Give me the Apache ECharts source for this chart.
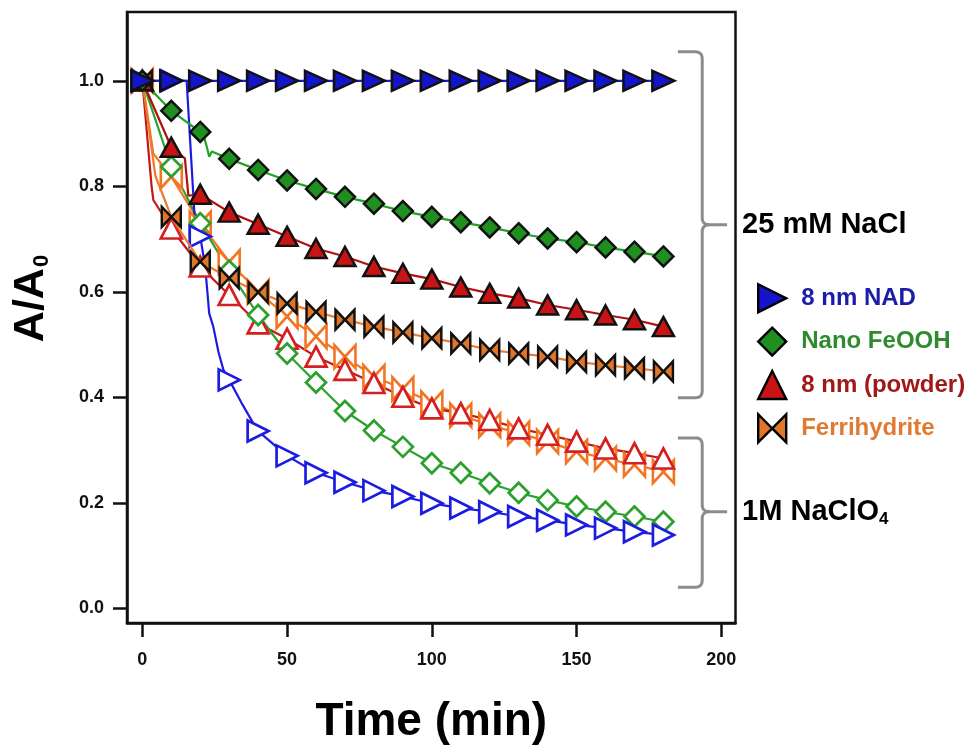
<!DOCTYPE html>
<html>
<head>
<meta charset="utf-8">
<script src="https://cdn.jsdelivr.net/npm/echarts@6/dist/echarts.min.js"></script>
<style>
html,body{margin:0;padding:0;background:#fff;}
#chart{width:971px;height:745px;}
</style>
</head>
<body>
<div id="chart"></div>
<script>
// ---------------- data ----------------
const markerTimes = [0,10,20,30,40,50,60,70,80,90,100,110,120,130,140,150,160,170,180];
const xTicks = [0,50,100,150,200];
const yTicks = [0,0.2,0.4,0.6,0.8,1.0];

// 25 mM NaCl (filled markers)
const nadNaCl      = [1.000,1.000,1.000,1.000,1.000,1.000,1.000,1.000,1.000,1.000,1.000,1.000,1.000,1.000,1.000,1.000,1.000,1.000,1.000];
const feoohNaCl    = [1.000,0.943,0.903,0.852,0.831,0.811,0.795,0.780,0.767,0.753,0.742,0.732,0.722,0.711,0.701,0.694,0.684,0.676,0.667];
const powderNaCl   = [1.000,0.874,0.785,0.751,0.728,0.705,0.682,0.667,0.648,0.635,0.624,0.609,0.597,0.588,0.575,0.566,0.556,0.547,0.534];
const ferriNaCl    = [1.000,0.742,0.657,0.626,0.599,0.578,0.562,0.547,0.534,0.523,0.512,0.502,0.490,0.483,0.477,0.467,0.461,0.455,0.449];

// 1M NaClO4 (open markers)
const nadClO4      = [1.000,1.000,0.705,0.433,0.336,0.289,0.257,0.239,0.223,0.212,0.199,0.190,0.183,0.174,0.167,0.158,0.152,0.145,0.139];
const feoohClO4    = [1.000,0.837,0.730,0.640,0.556,0.483,0.428,0.374,0.337,0.306,0.275,0.257,0.237,0.219,0.205,0.193,0.183,0.174,0.164];
const powderClO4   = [1.000,0.720,0.648,0.594,0.540,0.511,0.477,0.452,0.427,0.401,0.379,0.370,0.357,0.341,0.329,0.316,0.303,0.294,0.284];
const ferriClO4    = [1.000,0.818,0.730,0.657,0.600,0.553,0.515,0.477,0.439,0.416,0.389,0.366,0.347,0.332,0.316,0.297,0.284,0.272,0.259];

// extra readings of the continuous traces between the marked points [time, A/A0]
const feoohNaClTrace  = [[21.5,0.890],[22.4,0.872],[23.1,0.856],[24.0,0.866]];
const powderNaClTrace = [[14.7,0.853],[15.9,0.782]];
const ferriNaClTrace  = [[4.5,0.820]];
const nadClO4Trace    = [[15.3,1.000],[18.5,0.700],[21.7,0.648],[23.1,0.559],[24.5,0.534],[26.3,0.486],[28.0,0.452],[34.3,0.389],[38.3,0.351]];
const powderClO4Trace = [[3.2,0.800],[3.8,0.774]];
const ferriClO4Trace  = [[3.8,0.862]];

const seriesNames = ['8 nm NAD','Nano FeOOH','8 nm (powder)','Ferrihydrite'];
const groupLabels = ['25 mM NaCl','1M NaClO'];

// ---------------- helpers ----------------
function markerPts(vals){ return markerTimes.map((t,i)=>[t,vals[i]]); }
function tracePts(vals, extra){
  return markerPts(vals).concat(extra||[]).sort((a,b)=>a[0]-b[0]);
}

const SYM_RIGHT = 'path://M0,0L10,5L0,10Z';
const SYM_UP    = 'path://M5,0L10,10L0,10Z';
const SYM_DIAM  = 'path://M5,0L10,5L5,10L0,5Z';
const SYM_BOW   = 'path://M0,0L5,5L0,10ZM10,0L5,5L10,10Z';

const C = {
  blueLine:'#1c1ce0', blueFill:'#1414c8',
  greenLine:'#22a022', greenFill:'#1f8f1f', greenOpen:'#2ca02c',
  redLine:'#b01010', redFill:'#c81414', redOpen:'#d42020', redOpenLine:'#c41818',
  orangeLine:'#ee7a2c', orangeFill:'#e0762a', orangeOpen:'#f27522'
};

function lineSeries(data, color, z){
  return {type:'line', data:data, showSymbol:false, symbol:'none', silent:true,
          lineStyle:{color:color, width:2.2}, z:z, animation:false};
}
function openSeries(data, symbol, size, color, z){
  return {type:'scatter', data:data, symbol:symbol, symbolSize:size, silent:true,
          itemStyle:{color:'#ffffff', borderColor:color, borderWidth:2.7, opacity:1}, z:z, animation:false};
}
function filledSeries(name, data, symbol, size, fill, z){
  return {type:'scatter', name:name, data:data, symbol:symbol, symbolSize:size, silent:true,
          itemStyle:{color:fill, borderColor:'#111', borderWidth:2.5, opacity:1}, z:z, animation:false};
}

const series = [
  // open (1M NaClO4)
  lineSeries(tracePts(ferriClO4, ferriClO4Trace), C.orangeOpen, 2),
  lineSeries(tracePts(powderClO4, powderClO4Trace), C.redOpenLine, 2),
  lineSeries(tracePts(feoohClO4), C.greenOpen, 2),
  lineSeries(tracePts(nadClO4, nadClO4Trace), C.blueLine, 2),
  openSeries(markerPts(ferriClO4), SYM_BOW, [21,23], C.orangeOpen, 3),
  openSeries(markerPts(powderClO4), SYM_UP, [21,20], C.redOpen, 3),
  openSeries(markerPts(feoohClO4), SYM_DIAM, 20, C.greenOpen, 3),
  openSeries(markerPts(nadClO4), SYM_RIGHT, [21,21], C.blueLine, 3),
  // filled (25 mM NaCl)
  lineSeries(tracePts(ferriNaCl, ferriNaClTrace), C.orangeLine, 4),
  lineSeries(tracePts(powderNaCl, powderNaClTrace), C.redLine, 4),
  lineSeries(tracePts(feoohNaCl, feoohNaClTrace), C.greenLine, 4),
  lineSeries(tracePts(nadNaCl), C.blueLine, 4),
  filledSeries(seriesNames[3], markerPts(ferriNaCl), SYM_BOW, [19,20], C.orangeFill, 5),
  filledSeries(seriesNames[2], markerPts(powderNaCl), SYM_UP, [21,19], C.redFill, 5),
  filledSeries(seriesNames[1], markerPts(feoohNaCl), SYM_DIAM, 20, C.greenFill, 5),
  filledSeries(seriesNames[0], markerPts(nadNaCl), SYM_RIGHT, [22,20], C.blueFill, 5)
];

const FONT = '"Liberation Sans", Arial, sans-serif';
const chart = echarts.init(document.getElementById('chart'), null, {renderer:'canvas'});

const option = {
  animation:false,
  backgroundColor:'#ffffff',
  grid:{left:127, top:12, right:235.5, bottom:122, show:true, borderColor:'#111', borderWidth:2.5,
        backgroundColor:'transparent', containLabel:false, outerBoundsMode:'none'},
  xAxis:{
    type:'value', min:-5.3, max:204.9,
    name:'Time (min)', nameLocation:'middle', nameGap:76,
    nameTextStyle:{fontFamily:FONT, fontWeight:'bold', fontSize:46, color:'#000'},
    axisLine:{show:true, onZero:false, lineStyle:{color:'#111', width:2.5}},
    axisTick:{show:true, inside:false, length:14, customValues:xTicks, lineStyle:{color:'#111', width:2.5}},
    axisLabel:{customValues:xTicks, margin:28, fontFamily:FONT, fontWeight:'bold', fontSize:18, color:'#111'},
    splitLine:{show:false}
  },
  yAxis:{
    type:'value', min:-0.0279, max:1.1304,
    name:'{a|A/A}{s|0}', nameLocation:'middle', nameGap:74, nameRotate:90,
    nameTextStyle:{padding:[0,0,0,38], rich:{
      a:{fontFamily:FONT, fontWeight:'bold', fontSize:43, color:'#000', lineHeight:44},
      s:{fontFamily:FONT, fontWeight:'bold', fontSize:22, color:'#000', lineHeight:44, verticalAlign:'bottom', padding:[0,0,0,1]}
    }},
    axisLine:{show:true, onZero:false, lineStyle:{color:'#111', width:2.5}},
    axisTick:{show:true, inside:false, length:14, customValues:yTicks, lineStyle:{color:'#111', width:2.5}},
    axisLabel:{customValues:yTicks, margin:23, fontFamily:FONT, fontWeight:'bold', fontSize:18, color:'#111',
               formatter:function(v){return v.toFixed(1);}},
    splitLine:{show:false}
  },
  legend:{
    orient:'vertical', left:752, top:278, itemWidth:28, itemHeight:28, itemGap:13,
    selectedMode:false,
    itemStyle:{borderColor:'#000', borderWidth:2.4},
    textStyle:{fontFamily:FONT, fontWeight:'bold', fontSize:24, padding:[0,0,0,10]},
    data:[
      {name:seriesNames[0], icon:SYM_RIGHT, textStyle:{color:'#1c1ca8'}},
      {name:seriesNames[1], icon:SYM_DIAM, textStyle:{color:'#2e8b2e'}},
      {name:seriesNames[2], icon:SYM_UP, textStyle:{color:'#a01818'}},
      {name:seriesNames[3], icon:SYM_BOW, textStyle:{color:'#e07a30'}}
    ]
  },
  series:series
};
chart.setOption(option);

// ---------------- brace annotations ----------------
function px(t,v){ return chart.convertToPixel({gridIndex:0},[t,v]); }
function quad(p0,p1,p2,n){
  const out=[];
  for(let i=1;i<=n;i++){const s=i/n;
    out.push([(1-s)*(1-s)*p0[0]+2*(1-s)*s*p1[0]+s*s*p2[0],(1-s)*(1-s)*p0[1]+2*(1-s)*s*p1[1]+s*s*p2[1]]);}
  return out;
}
function bracePoints(vTop, vMid, vBot){
  const top=px(185,vTop), mid=px(193.4,vMid), bot=px(185,vBot), tip=px(202,vMid);
  const x0=top[0], xv=mid[0], yT=top[1], yM=mid[1], yB=bot[1], xt=tip[0], r=7;
  const upper=[[x0,yT],[xv-r,yT]].concat(quad([xv-r,yT],[xv,yT],[xv,yT+r],6))
    .concat([[xv,yM-r]]).concat(quad([xv,yM-r],[xv,yM],[xv+r,yM],6)).concat([[xt,yM]]);
  const lower=[[xv+r,yM]].concat(quad([xv+r,yM],[xv,yM],[xv,yM+r],6))
    .concat([[xv,yB-r]]).concat(quad([xv,yB-r],[xv,yB],[xv-r,yB],6)).concat([[x0,yB]]);
  return {upper:upper, lower:lower, tip:[xt,yM]};
}
const b1 = bracePoints(1.055, 0.727, 0.399);
const b2 = bracePoints(0.323, 0.183, 0.040);
const braceStyle = {stroke:'#8c8c8c', lineWidth:3, fill:null};
chart.setOption({
  graphic:[
    {type:'polyline', shape:{points:b1.upper}, style:braceStyle, silent:true, z:10},
    {type:'polyline', shape:{points:b1.lower}, style:braceStyle, silent:true, z:10},
    {type:'polyline', shape:{points:b2.upper}, style:braceStyle, silent:true, z:10},
    {type:'polyline', shape:{points:b2.lower}, style:braceStyle, silent:true, z:10},
    {type:'text', x:b1.tip[0]+15, y:b1.tip[1], silent:true, z:10,
     style:{text:groupLabels[0], fontFamily:FONT, fontWeight:'bold', fontSize:29, fill:'#000', verticalAlign:'middle'}},
    {type:'text', x:b2.tip[0]+15, y:b2.tip[1], silent:true, z:10,
     style:{text:'{a|'+groupLabels[1]+'}{s|4}', verticalAlign:'middle',
       rich:{a:{fontFamily:FONT, fontWeight:'bold', fontSize:29, fill:'#000', lineHeight:32},
             s:{fontFamily:FONT, fontWeight:'bold', fontSize:17, fill:'#000', lineHeight:32, verticalAlign:'bottom'}}}}
  ]
});
</script>
</body>
</html>
